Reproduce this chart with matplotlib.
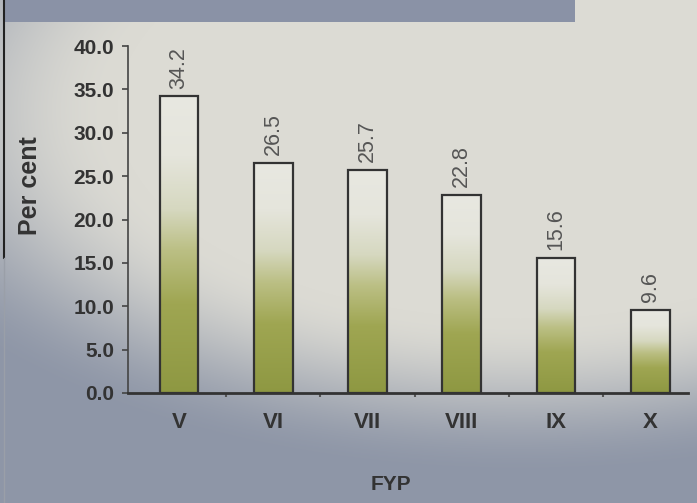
import numpy as np
import matplotlib.pyplot as plt
from matplotlib.colors import LinearSegmentedColormap, to_rgb
from matplotlib.patches import Rectangle

plans = ["V", "VI", "VII", "VIII", "IX", "X"]
per_cent = [34.2, 26.5, 25.7, 22.8, 15.6, 9.6]
y_ticks = [0, 5, 10, 15, 20, 25, 30, 35, 40]

plt.rcParams["font.family"] = ["Liberation Sans", "DejaVu Sans"]

W, H = 697, 503
fig = plt.figure(figsize=(W / 100, H / 100), dpi=100)

# page background: light grey fading into blue-grey towards bottom/left
bg = fig.add_axes([0, 0, 1, 1], zorder=0)
bg.set_axis_off()
yy, xx = np.mgrid[0:H, 0:W]
d = np.sqrt(((xx - 520) / 620.0) ** 2 + ((yy - 110) / 320.0) ** 2)
t = np.clip((d - 0.65) / 0.5, 0, 1)
t = t * t * (3 - 2 * t)
light = np.array(to_rgb("#dcdbd4"))
blue = np.array(to_rgb("#8e96a7"))
img = light[None, None, :] * (1 - t[..., None]) + blue[None, None, :] * t[..., None]
bg.imshow(img, extent=[0, W, H, 0], aspect="auto")
bg.set_xlim(0, W)
bg.set_ylim(H, 0)
bg.add_patch(Rectangle((5, 0), 570, 22, color="#8a92a6", lw=0))
bg.plot([4, 4], [0, 258], color="#222222", lw=1.5)
bg.plot([4, 4], [258, 503], color="#9a9fa8", lw=1.0)

ax = fig.add_axes([128 / W, 1 - 393 / H, (688 - 128) / W, (393 - 46) / H], zorder=1)
ax.patch.set_alpha(0)

bar_cmap = LinearSegmentedColormap.from_list(
    "olive",
    [(0.0, "#8e9842"), (0.3, "#9fa652"), (0.48, "#bbbf84"),
     (0.62, "#d6d8c0"), (0.8, "#e5e5dc"), (1.0, "#e8e8e1")],
)
grad = np.linspace(0, 1, 256).reshape(-1, 1)

x = np.arange(len(plans))
width = 0.41
bars = ax.bar(x, per_cent, width, facecolor="none", edgecolor="#333333",
              linewidth=1.6, zorder=3)
for b, val in zip(bars, per_cent):
    x0 = b.get_x()
    im = ax.imshow(grad, cmap=bar_cmap, origin="lower", aspect="auto",
                   extent=[x0, x0 + width, 0, val], zorder=2)
    im.set_clip_path(b)
    ax.text(b.get_x() + width / 2, val + 0.9, f"{val:.1f}", rotation=90,
            ha="center", va="bottom", fontsize=15.5, color="#555555")

ax.set_xlim(-0.54, 5.40)
ax.set_ylim(0, 40)
ax.set_yticks(y_ticks)
ax.set_yticklabels([f"{v:.1f}" for v in y_ticks], fontsize=15,
                   fontweight="bold", color="#333333")
ax.set_xticks(x)
ax.set_xticklabels(plans, fontsize=16, fontweight="bold", color="#333333")
ax.set_xticks(x[:-1] + 0.5, minor=True)
ax.tick_params(axis="x", which="major", length=0, pad=14)
ax.tick_params(axis="x", which="minor", length=3, width=1.5, color="#555555")
ax.tick_params(axis="y", length=4, width=1.2, color="#444444", pad=6)

for side in ["top", "right"]:
    ax.spines[side].set_visible(False)
ax.spines["left"].set_color("#444444")
ax.spines["left"].set_linewidth(1.2)
ax.spines["bottom"].set_color("#333333")
ax.spines["bottom"].set_linewidth(2)

fig.text(30 / W, 1 - 186 / H, "Per cent", rotation=90, ha="center",
         va="center", fontsize=18, fontweight="bold", color="#333333")
fig.text(391 / W, 1 - 484 / H, "FYP", ha="center", va="center",
         fontsize=15, fontweight="bold", color="#333333")

fig.savefig("out.png", dpi=100)
